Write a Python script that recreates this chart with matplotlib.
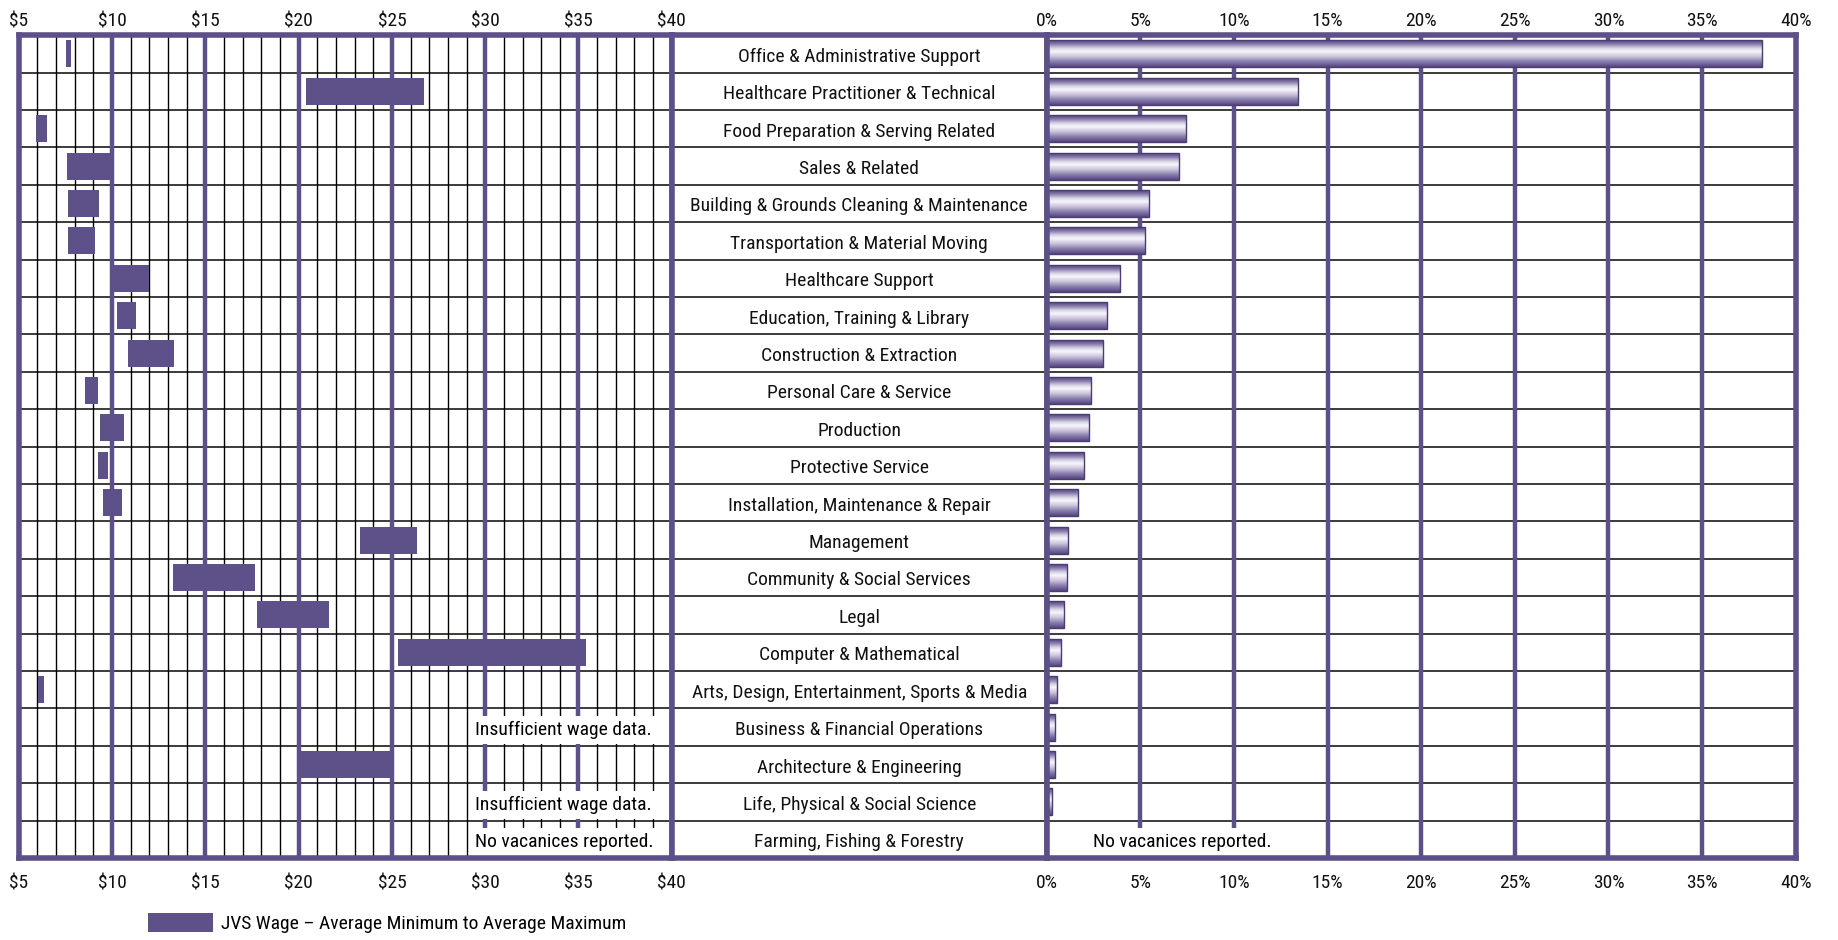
import matplotlib
matplotlib.use("Agg")  # no display in the sandbox
import matplotlib.pyplot as plt
from matplotlib import font_manager
from matplotlib.colors import LinearSegmentedColormap
from matplotlib.patches import Patch
from matplotlib.transforms import ScaledTranslation
import numpy as np

# Occupational groups, top to bottom
categories = [
    "Office & Administrative Support",
    "Healthcare Practitioner & Technical",
    "Food Preparation & Serving Related",
    "Sales & Related",
    "Building & Grounds Cleaning & Maintenance",
    "Transportation & Material Moving",
    "Healthcare Support",
    "Education, Training & Library",
    "Construction & Extraction",
    "Personal Care & Service",
    "Production",
    "Protective Service",
    "Installation, Maintenance & Repair",
    "Management",
    "Community & Social Services",
    "Legal",
    "Computer & Mathematical",
    "Arts, Design, Entertainment, Sports & Media",
    "Business & Financial Operations",
    "Architecture & Engineering",
    "Life, Physical & Social Science",
    "Farming, Fishing & Forestry",
]

# JVS wage, average minimum and average maximum ($/hour); nan = no bar
wage_min = [7.55, 20.4, 5.95, 7.6, 7.63, 7.63, 9.97, 10.27, 10.86, 8.54, 9.35, 9.26,
            9.52, 23.28, 13.28, 17.77, 25.33, 6.03, np.nan, 19.95, np.nan, np.nan]
wage_max = [7.8, 26.7, 6.5, 10.05, 9.28, 9.09, 11.97, 11.3, 13.33, 9.26, 10.65, 9.78,
            10.53, 26.34, 17.66, 21.63, 35.41, 6.36, np.nan, 25.1, np.nan, np.nan]
wage_note = [None] * 18 + ["Insufficient wage data.", None,
                           "Insufficient wage data.", "No vacanices reported."]

# share of vacancies (%); nan = none reported
share = [38.2, 13.4, 7.43, 7.05, 5.44, 5.27, 3.89, 3.24, 2.99, 2.36, 2.24, 1.99,
         1.68, 1.12, 1.07, 0.9, 0.78, 0.57, 0.44, 0.44, 0.28, np.nan]
share_note = [None] * 21 + ["No vacanices reported."]

wage_ticks = list(range(5, 41, 5))
share_ticks = list(range(0, 41, 5))

PURPLE = "#5d4f87"
BAR = "#5e5088"

# pick a narrow sans if one is there
available = {f.name for f in font_manager.fontManager.ttflist}
narrow = next((f for f in ["Liberation Sans Narrow", "Roboto Condensed",
                           "Open Sans Condensed", "Liberation Sans"] if f in available),
              "DejaVu Sans")
plt.rcParams["font.family"] = [narrow, "DejaVu Sans"]
fs = 14 if ("Narrow" in narrow or "Condensed" in narrow) else 11.5

fig = plt.figure(figsize=(18.38, 9.40), dpi=100)
bottom, height = 0.0872, 0.8754
ax_w = fig.add_axes([0.0102, bottom, 0.3553, height])
ax_l = fig.add_axes([0.3655, bottom, 0.2040, height])
ax_s = fig.add_axes([0.5695, bottom, 0.4075, height])

n = len(categories)
ypos = np.arange(n)
bar_h = 0.72
txt_dy = 0.08  # text sits a little low in its row
note_box = dict(boxstyle="square,pad=0.25", facecolor="white", edgecolor="none")

for ax in (ax_w, ax_l, ax_s):
    ax.set_ylim(n - 0.5, -0.5)
    ax.set_yticks([])
    for sp in ax.spines.values():
        sp.set_color(PURPLE)
        sp.set_linewidth(4)
        sp.set_zorder(5)
    for y in np.arange(0.5, n - 1, 1):
        ax.axhline(y, color="#1a1a1a", lw=1.2, zorder=1)

# ---- wage panel
ax_w.set_xlim(5, 40)
for x in range(6, 40):
    if x % 5:
        ax_w.axvline(x, color="black", lw=1.0, zorder=1)
    else:
        ax_w.axvline(x, color=PURPLE, lw=3.2, zorder=1.5)
for i in range(n):
    if not np.isnan(wage_min[i]):
        ax_w.barh(ypos[i], wage_max[i] - wage_min[i], left=wage_min[i], height=bar_h,
                  color=BAR, zorder=3)
    if wage_note[i]:
        ax_w.text(29.45, ypos[i] + txt_dy, wage_note[i], ha="left", va="center",
                  fontsize=fs, zorder=4, bbox=note_box)
ax_w.set_xticks(wage_ticks)
ax_w.set_xticklabels([f"${t}" for t in wage_ticks])

# ---- label column
ax_l.set_xlim(0, 1)
ax_l.set_xticks([])
for i, name in enumerate(categories):
    ax_l.text(0.5, ypos[i] + txt_dy, name, ha="center", va="center", fontsize=fs,
              color="#111111")

# ---- share panel, gradient bars
grad_cmap = LinearSegmentedColormap.from_list(
    "tube", [(0.0, "#56467f"), (0.12, "#7e71a4"), (0.3, "#d8d3e6"), (0.42, "#f7f6fb"),
             (0.6, "#cec7de"), (0.8, "#8b7fae"), (1.0, "#56467f")])
grad = np.linspace(0, 1, 64).reshape(-1, 1)
for x in share_ticks[1:-1]:
    ax_s.axvline(x, color=PURPLE, lw=3.2, zorder=1.5)
for i in range(n):
    if not np.isnan(share[i]):
        ax_s.imshow(grad, cmap=grad_cmap, aspect="auto", interpolation="bilinear",
                    extent=(0, share[i], ypos[i] + bar_h / 2, ypos[i] - bar_h / 2), zorder=3)
        ax_s.barh(ypos[i], share[i], height=bar_h, facecolor="none",
                  edgecolor="#4b3d73", lw=1.0, zorder=3.5)
    if share_note[i]:
        ax_s.text(2.45, ypos[i] + txt_dy, share_note[i], ha="left", va="center",
                  fontsize=fs, zorder=4, bbox=note_box)
ax_s.set_xlim(0, 40)
ax_s.set_ylim(n - 0.5, -0.5)
ax_s.set_xticks(share_ticks)
ax_s.set_xticklabels([f"{t}%" for t in share_ticks])

# tick labels above and below; the top ones sit closer to the frame
top_shift = ScaledTranslation(0, 3.5 / 72, fig.dpi_scale_trans)
for ax in (ax_w, ax_s):
    ax.tick_params(axis="x", top=True, labeltop=True, bottom=True, labelbottom=True,
                   length=0, labelsize=fs, labelcolor="#111111", pad=11.5)
    for t in ax.xaxis.get_major_ticks():
        t.label2.set_transform(ax.get_xaxis_transform() + top_shift)
        t.label2.set_y(1.0)
        t.label2.set_verticalalignment("bottom")

fig.legend(handles=[Patch(facecolor=BAR, edgecolor="none")],
           labels=["JVS Wage \u2013 Average Minimum to Average Maximum"],
           loc="center left", bbox_to_anchor=(148 / 1838, 1 - 923 / 940),
           frameon=False, fontsize=fs, borderpad=0, borderaxespad=0,
           handlelength=3.35, handleheight=1.1, handletextpad=0.42)

fig.savefig("out.png", dpi=100)
